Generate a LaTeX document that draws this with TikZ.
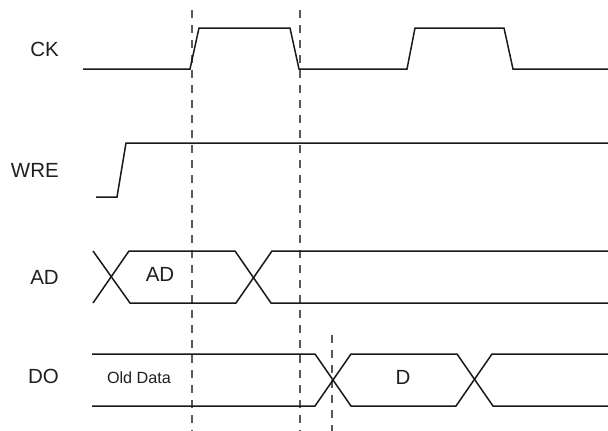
\documentclass[tikz,border=0pt]{standalone}
\usepackage{fontspec}
\setmainfont{Liberation Sans}
\begin{document}
\begin{tikzpicture}[x=1pt,y=-1pt,
  wave/.style={draw=black!90,line width=1.5pt,line join=miter},
  guide/.style={draw=black!65,line width=1.4pt,dash pattern=on 8pt off 7pt},
  siglabel/.style={anchor=base east,inner sep=0pt,font=\fontsize{20.5}{24}\selectfont,text=black!88},
  buslabel/.style={inner sep=0pt,font=\fontsize{20.5}{24}\selectfont,text=black!88},
  smalllabel/.style={inner sep=0pt,font=\fontsize{16.2}{19}\selectfont,text=black!88}]
\useasboundingbox (0,0) rectangle (608,431);
% guides
\coordinate (g1t) at (192,10); \coordinate (g1b) at (192,431);
\coordinate (g2t) at (300,10); \coordinate (g2b) at (300,431);
\coordinate (g3t) at (332,335); \coordinate (g3b) at (332,431);
\draw[guide] (g1t) -- (g1b);
\draw[guide] (g2t) -- (g2b);
\draw[guide] (g3t) -- (g3b);
% labels
\node[siglabel] (ck) at (59,56) {CK};
\node[siglabel] (wre) at (59,177) {WRE};
\node[siglabel] (ad) at (59,284) {AD};
\node[siglabel] (do) at (59,383) {DO};
% CK
\draw[wave] (83,69) -- (190,69) -- (199,28) -- (290,28) -- (299,69) -- (407,69) -- (415,28) -- (504,28) -- (513,69) -- (608,69);
% WRE
\draw[wave] (96,197) -- (117,197) -- (126,143) -- (608,143);
% AD bus
\draw[wave] (93,251) -- (130,303) -- (236,303) -- (272,251) -- (608,251);
\draw[wave] (93,303) -- (129,251) -- (235,251) -- (271,303) -- (608,303);
\node[buslabel] (adv) at (160,274) {AD};
% DO bus
\draw[wave] (92,354) -- (315,354) -- (351,406) -- (456,406) -- (492,354) -- (608,354);
\draw[wave] (92,406) -- (315,406) -- (351,354) -- (457,354) -- (493,406) -- (608,406);
\node[smalllabel] (old) at (139,378) {Old Data};
\node[buslabel] (dv) at (403,377) {D};
\end{tikzpicture}
\end{document}
